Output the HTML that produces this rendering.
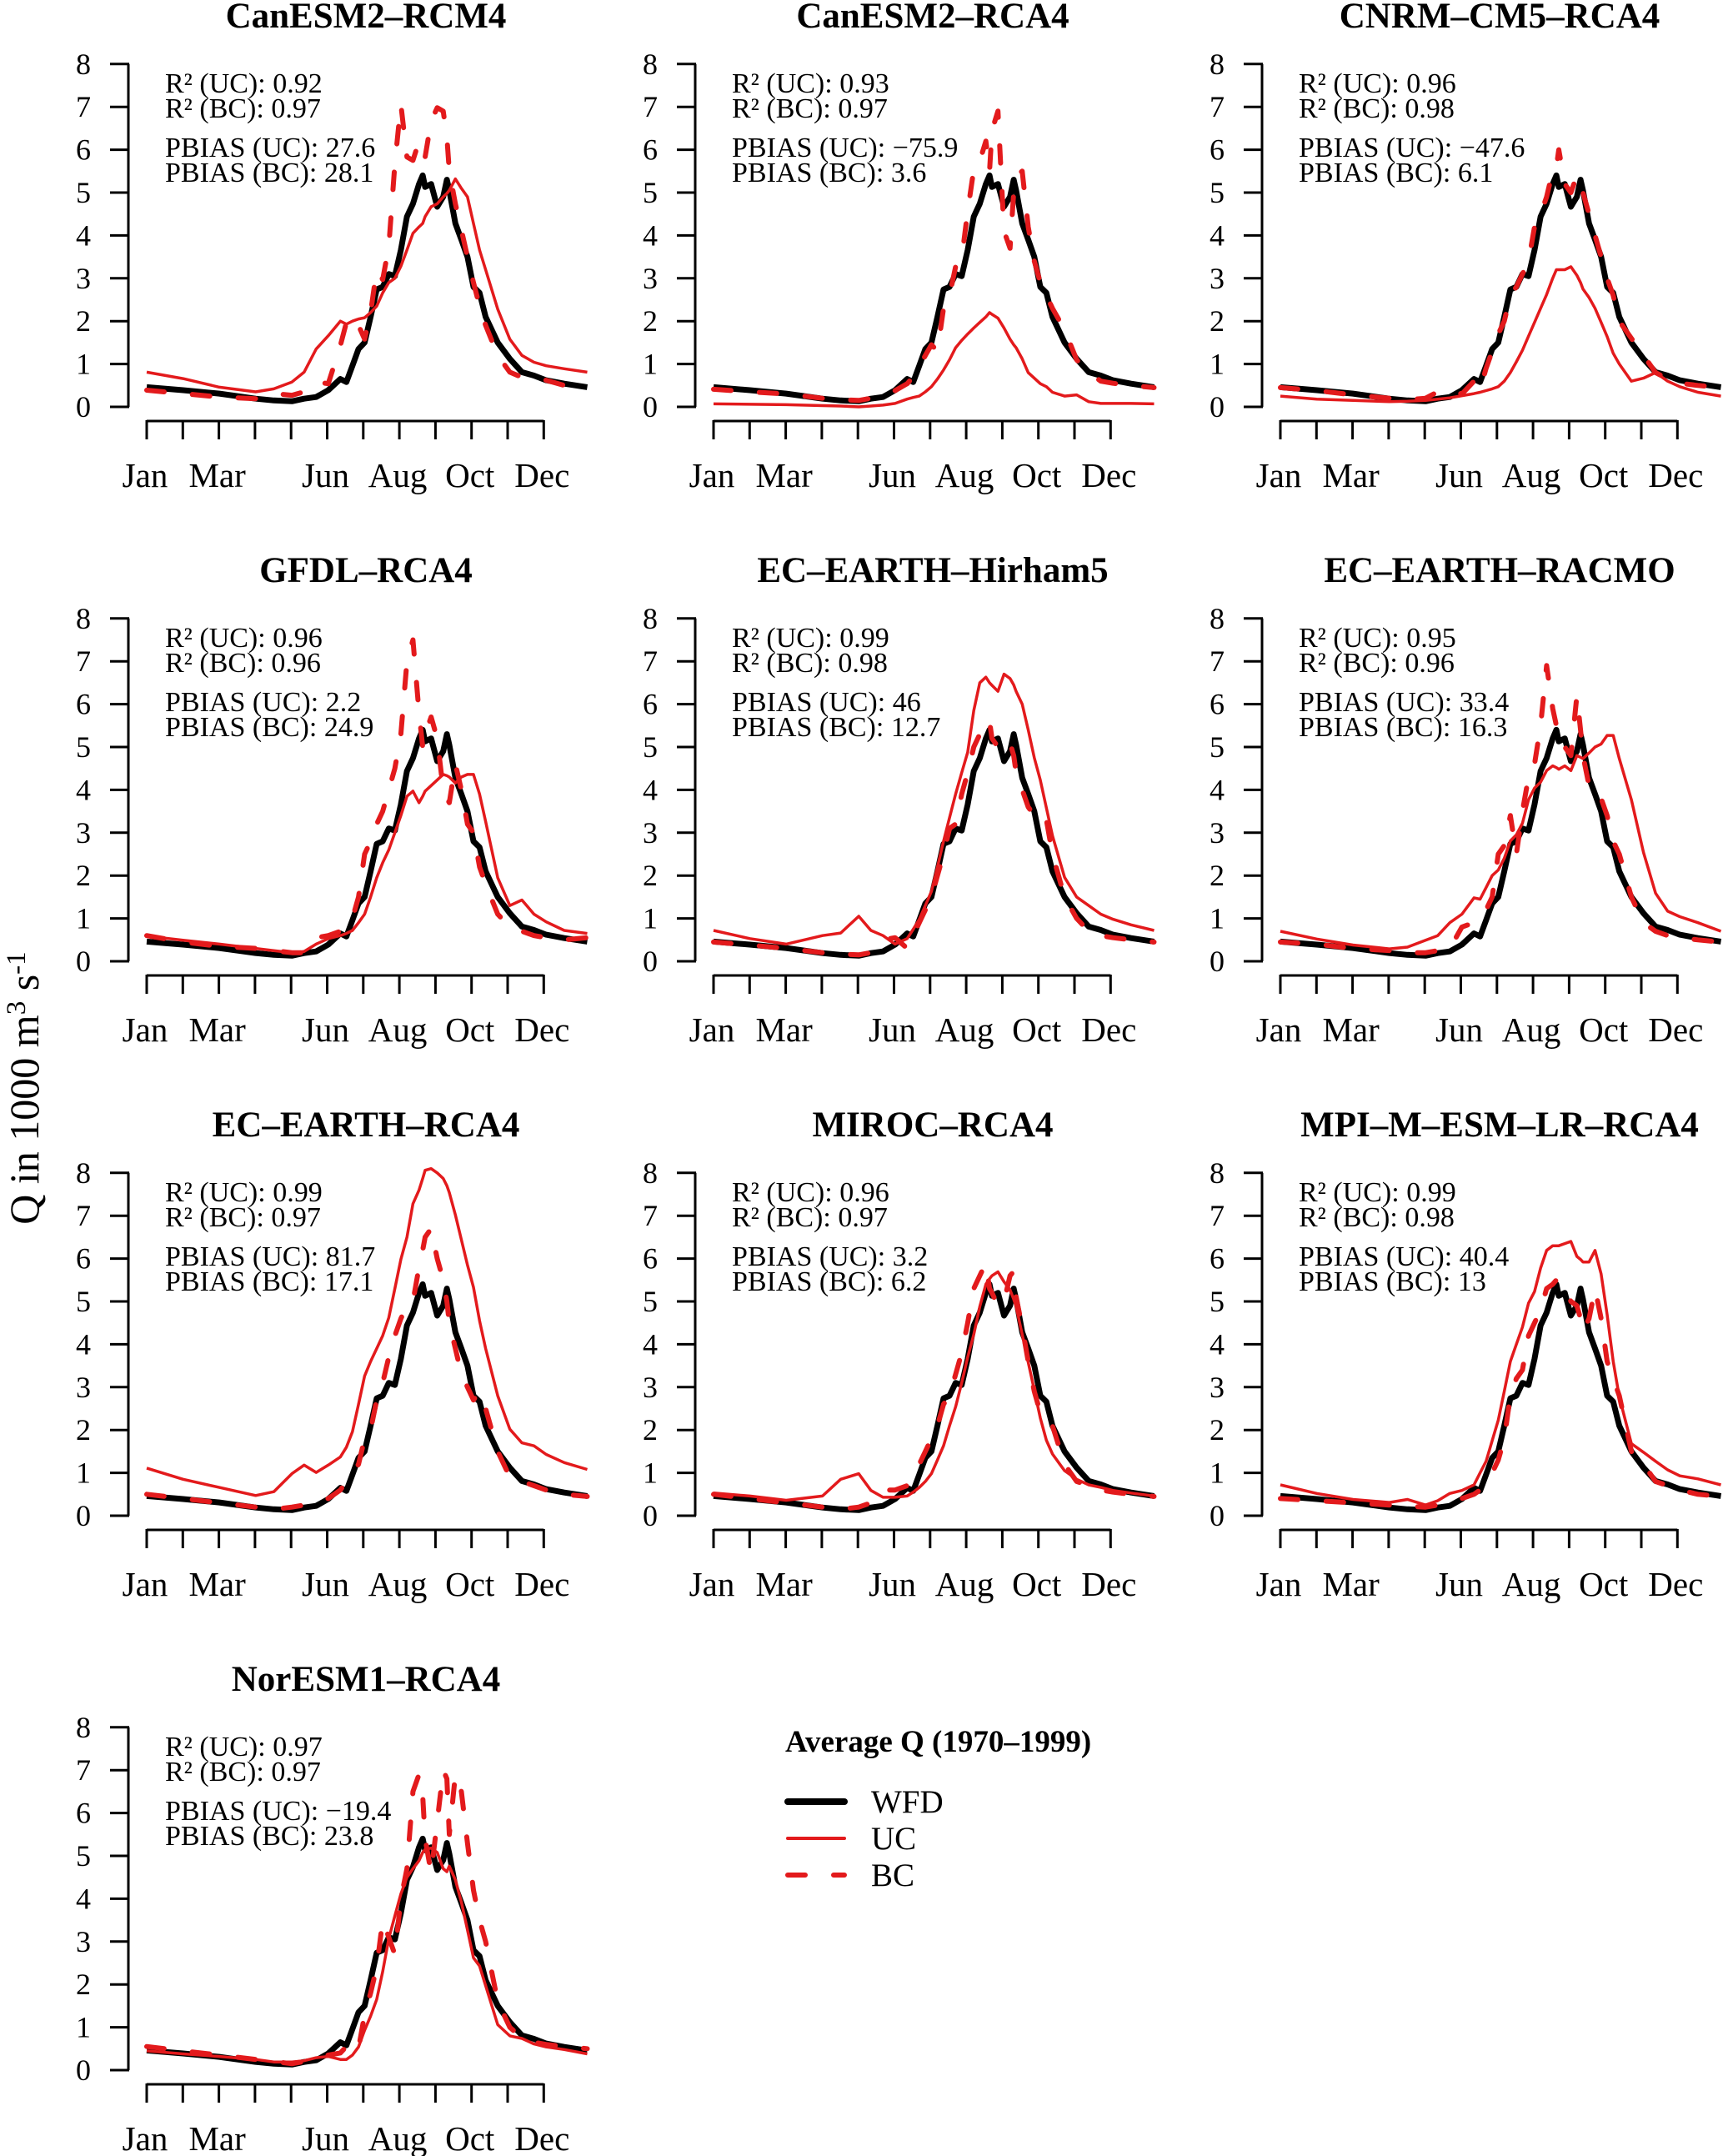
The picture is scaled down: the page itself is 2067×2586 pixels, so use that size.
<!DOCTYPE html>
<html><head><meta charset="utf-8"><style>
html,body{margin:0;padding:0;background:#fff;}
svg{display:block;font-family:"Liberation Serif",serif;}
</style></head><body>
<svg id="fig" width="2067" height="2586" viewBox="0 0 2067 2586" xmlns="http://www.w3.org/2000/svg">
<rect width="2067" height="2586" fill="#fff"/>
<text transform="translate(46,1305) rotate(-90)" text-anchor="middle" font-size="50">Q in 1000 m<tspan dy="-16" font-size="33">3</tspan><tspan dy="16"> s</tspan><tspan dy="-16" font-size="33">-1</tspan></text>
<g>
<text x="942" y="2101" font-size="37" font-weight="bold">Average Q (1970–1999)</text>
<line x1="945" y1="2161" x2="1013" y2="2161" stroke="#000" stroke-width="8" stroke-linecap="round"/>
<text x="1045" y="2174" font-size="39">WFD</text>
<line x1="945" y1="2205" x2="1013" y2="2205" stroke="#e31a1c" stroke-width="4" stroke-linecap="round"/>
<text x="1045" y="2218" font-size="39">UC</text>
<line x1="945" y1="2249" x2="1013" y2="2249" stroke="#e31a1c" stroke-width="6" stroke-linecap="round" stroke-dasharray="21 34"/>
<text x="1045" y="2262" font-size="39">BC</text>
</g>
</svg>
<script>
const days = [0,30,60,90,105,120,130,140,150,160,165,170,175,180,185,190,195,200,205,210,215,220,225,228,230,235,240,245,248,250,255,260,265,270,275,280,290,300,310,320,330,345,364];
const wfd = [0.46,0.39,0.31,0.19,0.15,0.13,0.19,0.23,0.39,0.65,0.58,0.96,1.35,1.5,2.1,2.74,2.8,3.1,3.05,3.66,4.44,4.74,5.2,5.4,5.13,5.2,4.67,4.9,5.3,5.05,4.28,3.9,3.5,2.8,2.66,2.1,1.5,1.12,0.81,0.73,0.62,0.54,0.46];
const titles = ["CanESM2–RCM4","CanESM2–RCA4","CNRM–CM5–RCA4","GFDL–RCA4","EC–EARTH–Hirham5","EC–EARTH–RACMO","EC–EARTH–RCA4","MIROC–RCA4","MPI–M–ESM–LR–RCA4","NorESM1–RCA4"];
const r2uc = ["0.92","0.93","0.96","0.96","0.99","0.95","0.99","0.96","0.99","0.97"];
const r2bc = ["0.97","0.97","0.98","0.96","0.98","0.96","0.97","0.97","0.98","0.97"];
const pbuc = ["27.6","−75.9","−47.6","2.2","46","33.4","81.7","3.2","40.4","−19.4"];
const pbbc = ["28.1","3.6","6.1","24.9","12.7","16.3","17.1","6.2","13","23.8"];
const uc1 = [0.81,0.66,0.46,0.35,0.42,0.58,0.81,1.35,1.66,2.0,1.93,2.0,2.05,2.08,2.2,2.35,2.66,2.9,3.0,3.28,3.66,4.05,4.2,4.28,4.44,4.67,4.74,4.9,4.98,5.05,5.32,5.1,4.9,4.28,3.66,3.2,2.28,1.58,1.2,1.04,0.96,0.89,0.81];
const bc1 = [0.39,0.31,0.23,0.19,0.31,0.27,0.35,0.58,0.54,1.43,1.97,2.12,1.9,1.58,2.2,3.2,2.97,3.74,5.67,7.06,5.83,5.75,6.2,5.9,5.83,6.67,6.98,6.9,6.3,5.5,4.74,4.13,3.5,2.9,2.35,1.9,1.2,0.81,0.69,0.66,0.62,0.5,0.42];
const uc2 = [0.07,0.06,0.05,0.03,0.02,0.0,0.02,0.04,0.08,0.18,0.22,0.25,0.35,0.47,0.65,0.86,1.1,1.38,1.55,1.7,1.84,1.97,2.1,2.2,2.16,2.07,1.84,1.58,1.45,1.38,1.12,0.8,0.67,0.54,0.47,0.34,0.25,0.28,0.12,0.08,0.08,0.08,0.07];
const bc2 = [0.41,0.35,0.3,0.2,0.17,0.15,0.2,0.28,0.38,0.54,0.7,0.93,1.2,1.45,1.3,2.3,2.6,3.27,3.46,4.57,5.54,5.74,6.2,5.5,6.45,6.9,4.1,3.7,5.0,5.4,5.5,4.2,3.4,2.9,2.6,2.3,1.8,1.1,0.8,0.6,0.55,0.5,0.45];
const uc3 = [0.25,0.18,0.15,0.12,0.13,0.15,0.18,0.21,0.26,0.31,0.34,0.38,0.42,0.47,0.6,0.8,1.05,1.32,1.65,1.97,2.3,2.62,3.0,3.2,3.2,3.2,3.27,3.07,2.9,2.75,2.55,2.3,1.97,1.64,1.25,1.0,0.6,0.67,0.8,0.6,0.47,0.34,0.25];
const bc3 = [0.45,0.38,0.28,0.2,0.17,0.2,0.35,0.4,0.3,0.6,0.4,0.9,1.3,1.7,2.0,2.6,2.8,3.1,3.4,4.2,4.5,4.9,5.5,5.6,6.0,5.2,5.0,5.4,5.2,5.0,4.5,4.0,3.5,3.0,2.6,2.0,1.6,1.2,0.8,0.65,0.55,0.5,0.45];
const uc4 = [0.59,0.49,0.4,0.3,0.25,0.2,0.23,0.4,0.53,0.6,0.65,0.72,0.9,1.1,1.5,1.95,2.3,2.6,3.0,3.4,3.85,3.97,3.7,3.85,3.97,4.1,4.23,4.36,4.33,4.3,4.16,4.3,4.36,4.36,3.9,3.26,1.95,1.3,1.43,1.1,0.92,0.72,0.65];
const bc4 = [0.6,0.45,0.35,0.3,0.25,0.2,0.2,0.55,0.6,0.7,0.9,1.0,1.5,2.5,2.8,3.2,3.5,4.0,4.5,5.3,7.0,7.5,5.8,5.0,5.3,5.7,5.2,4.0,3.8,3.7,4.6,4.0,3.2,3.0,2.2,1.8,1.1,0.8,0.7,0.6,0.55,0.5,0.55];
const uc5 = [0.72,0.53,0.4,0.6,0.66,1.05,0.72,0.6,0.4,0.53,0.75,0.98,1.3,1.63,2.2,2.8,3.35,3.9,4.4,4.88,5.85,6.5,6.63,6.5,6.44,6.3,6.7,6.6,6.45,6.3,6.0,5.4,4.75,4.23,3.58,2.93,1.96,1.5,1.3,1.1,0.98,0.85,0.72];
const bc5 = [0.45,0.38,0.3,0.2,0.17,0.15,0.2,0.5,0.55,0.3,0.6,0.9,1.2,1.5,2.0,2.5,3.1,3.2,3.9,4.4,5.0,5.3,5.3,5.6,5.2,5.0,4.9,5.1,4.8,4.4,4.0,3.6,3.4,3.5,3.3,2.5,1.5,1.0,0.7,0.6,0.55,0.5,0.45];
const uc6 = [0.7,0.52,0.38,0.29,0.33,0.49,0.6,0.9,1.1,1.48,1.45,1.72,2.0,2.13,2.4,2.81,2.95,3.22,3.77,4.04,4.18,4.45,4.56,4.52,4.48,4.56,4.45,4.8,4.76,4.73,4.86,5.0,5.07,5.27,5.27,4.73,3.77,2.54,1.59,1.17,1.04,0.9,0.7];
const bc6 = [0.45,0.4,0.3,0.25,0.2,0.2,0.25,0.3,0.8,0.9,1.0,1.2,1.5,2.5,2.7,3.4,2.5,3.5,4.3,4.6,5.5,6.9,5.9,5.5,5.5,5.0,4.8,6.2,5.4,4.8,4.1,3.8,3.8,3.4,2.8,2.5,1.5,0.9,0.7,0.6,0.55,0.5,0.45];
const uc7 = [1.11,0.85,0.66,0.47,0.56,0.98,1.18,1.01,1.18,1.37,1.6,1.96,2.6,3.26,3.6,3.9,4.2,4.62,5.3,5.98,6.5,7.28,7.6,7.87,8.06,8.1,8.0,7.87,7.7,7.54,7.02,6.44,5.85,5.33,4.55,3.9,2.8,2.02,1.7,1.63,1.43,1.24,1.08];
const bc7 = [0.5,0.4,0.3,0.2,0.15,0.2,0.25,0.35,0.4,0.6,0.8,1.0,1.2,1.8,2.0,2.7,3.1,3.7,4.2,4.6,4.9,5.0,5.8,6.2,6.5,6.7,6.0,5.5,5.0,4.5,3.9,3.3,3.0,2.7,2.9,2.5,1.5,0.9,0.8,0.7,0.6,0.5,0.45];
const uc8 = [0.53,0.46,0.36,0.46,0.85,0.98,0.59,0.43,0.43,0.46,0.55,0.66,0.8,0.98,1.3,1.63,2.1,2.54,3.1,3.7,4.23,4.88,5.4,5.53,5.6,5.69,5.46,5.27,5.05,4.88,4.23,3.58,2.93,2.28,1.76,1.44,1.05,0.85,0.72,0.66,0.59,0.53,0.46];
const bc8 = [0.5,0.4,0.3,0.2,0.15,0.2,0.3,0.6,0.6,0.7,0.9,1.2,1.5,1.8,2.1,2.6,2.8,3.3,3.8,4.5,5.3,5.6,5.9,5.3,5.2,4.9,5.0,5.6,5.7,5.1,4.4,3.6,2.9,2.4,2.3,2.1,1.2,0.8,0.7,0.6,0.55,0.5,0.45];
const uc9 = [0.72,0.52,0.38,0.31,0.38,0.25,0.35,0.52,0.59,0.72,1.0,1.27,1.75,2.23,2.9,3.6,4.0,4.4,4.96,5.23,5.78,6.19,6.3,6.3,6.3,6.35,6.4,6.05,5.98,5.92,5.92,6.19,5.64,4.69,3.6,2.77,1.68,1.48,1.27,1.07,0.93,0.86,0.72];
const bc9 = [0.4,0.35,0.3,0.25,0.22,0.2,0.25,0.3,0.4,0.5,0.6,0.8,1.0,1.3,1.8,2.8,3.2,3.4,4.2,4.5,4.8,5.3,5.4,5.5,5.5,5.4,5.0,4.9,4.6,4.3,4.6,5.3,4.6,3.6,3.2,2.8,1.5,1.2,0.8,0.7,0.6,0.5,0.45];
const uc10 = [0.45,0.38,0.32,0.25,0.19,0.19,0.22,0.29,0.32,0.25,0.25,0.35,0.54,0.93,1.26,1.65,2.3,3.07,3.6,4.11,4.5,4.7,4.89,5.08,5.15,5.18,5.08,4.7,4.63,4.76,4.44,3.92,3.27,2.62,2.43,1.97,1.06,0.8,0.74,0.61,0.54,0.48,0.38];
const bc10 = [0.55,0.45,0.35,0.25,0.2,0.15,0.2,0.3,0.35,0.4,0.55,0.4,0.5,1.3,1.8,2.4,3.5,3.1,2.7,4.0,4.7,6.5,6.9,6.4,5.4,4.6,5.8,7.0,6.8,5.5,6.9,6.5,5.3,4.2,3.5,3.0,1.6,1.0,0.75,0.65,0.6,0.55,0.5];
const ucAll = [uc1,uc2,uc3,uc4,uc5,uc6,uc7,uc8,uc9,uc10];
const bcAll = [bc1,bc2,bc3,bc4,bc5,bc6,bc7,bc8,bc9,bc10];
const yTicks = [0,1,2,3,4,5,6,7,8];
const monthLabels = ["Jan","","Mar","","","Jun","","Aug","","Oct","","Dec"];

const NS = "http://www.w3.org/2000/svg";
const svg = document.getElementById("fig");
function mk(tag, attrs, parent){
  const e = document.createElementNS(NS, tag);
  for (const k in attrs) e.setAttribute(k, attrs[k]);
  parent.appendChild(e);
  return e;
}
function xScale(d, ox){ return 176 + ox + d*1.452; }
function yScale(v, oy){ return 488 + oy - v*51.4; }
function pathFor(vals, ox, oy){
  return vals.map((v,i)=>(i?"L":"M")+xScale(days[i],ox).toFixed(1)+","+yScale(v,oy).toFixed(1)).join(" ");
}

titles.forEach((t, p) => {
  const c = p % 3, r = Math.floor(p / 3);
  const ox = c*680, oy = r*665;
  const g = mk("g", {}, svg);
  
  
  const tt = mk("text", {x:439+ox, y:33+oy, "text-anchor":"middle", "font-size":"43", "font-weight":"bold"}, g);
  
  
  tt.textContent = t;
  const ya = mk("line", {x1:154+ox, y1:yScale(0,oy), x2:154+ox, y2:yScale(8,oy), stroke:"#000", "stroke-width":"3"}, g);
  
  
  yTicks.forEach(v => {
    const tk = mk("line", {x1:132+ox, y1:yScale(v,oy), x2:155+ox, y2:yScale(v,oy), stroke:"#000", "stroke-width":"3"}, g);
    
    
    const tl = mk("text", {x:100+ox, y:yScale(v,oy)+12, "text-anchor":"middle", "font-size":"36"}, g);
    
    
    tl.textContent = v;
  });
  const xa = mk("line", {x1:176+ox, y1:505+oy, x2:176+ox+11*43.3, y2:505+oy, stroke:"#000", "stroke-width":"3"}, g);
  
  
  monthLabels.forEach((m, k) => {
    const x = 176 + ox + k*43.3;
    const tk = mk("line", {x1:x, y1:504+oy, x2:x, y2:527+oy, stroke:"#000", "stroke-width":"3"}, g);
    
    
    if (m) {
      const tl = mk("text", {x:x-2, y:584+oy, "text-anchor":"middle", "font-size":"41"}, g);
      
      
      tl.textContent = m;
    }
  });
  const ann = [["R² (UC): "+r2uc[p],111],["R² (BC): "+r2bc[p],141],["PBIAS (UC): "+pbuc[p],188],["PBIAS (BC): "+pbbc[p],218]];
  ann.forEach(a => {
    const at = mk("text", {x:198+ox, y:a[1]+oy, "font-size":"34"}, g);
    
    
    at.textContent = a[0];
  });
  const lw = mk("path", {d:pathFor(wfd,ox,oy), fill:"none", stroke:"#000", "stroke-width":"7", "stroke-linejoin":"round"}, g);
  
  
  const lu = mk("path", {d:pathFor(ucAll[p],ox,oy), fill:"none", stroke:"#e31a1c", "stroke-width":"3.5", "stroke-linejoin":"round"}, g);
  
  
  const lb = mk("path", {d:pathFor(bcAll[p],ox,oy), fill:"none", stroke:"#e31a1c", "stroke-width":"6", "stroke-linecap":"round", "stroke-linejoin":"round", "stroke-dasharray":"21 34"}, g);
  
  
});
</script>
</body></html>
